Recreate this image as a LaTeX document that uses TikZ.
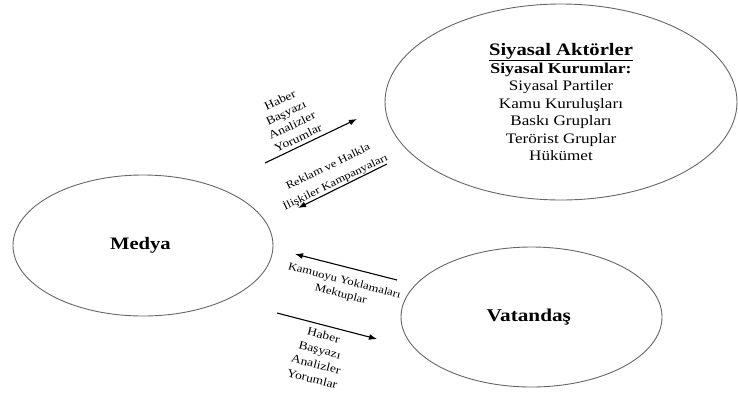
\documentclass[tikz,border=0pt]{standalone}
\usepackage{fontspec}
\setmainfont{Liberation Serif}[FakeStretch=1.18]
\usetikzlibrary{arrows.meta,shapes}

\begin{document}
\begin{tikzpicture}[x=1pt, y=-1pt,
    actor/.style={
        ellipse,
        draw=black!60,
        line width=0.9pt,
        inner sep=0pt,
        align=center
    },
    note/.style={
        inner sep=0pt,
        align=center,
        font=\fontsize{10.8}{14}\selectfont
    },
    flow/.style={-{Latex[length=8pt, width=6pt]}, line width=1.1pt, black}
]
    \useasboundingbox (0,0) rectangle (738,392);

    \node (siyasal_aktorler) [actor, minimum width=352, minimum height=196,
        font=\fontsize{14.5}{17.5}\selectfont] at (561,102)
    {
        {\fontsize{17.5}{17.5}\selectfont\bfseries \underline{Siyasal Aktörler}}\\
        {\fontsize{15}{17.5}\selectfont\bfseries Siyasal Kurumlar:}\\
        Siyasal Partiler\\
        Kamu Kuruluşları\\
        Baskı Grupları\\
        Terörist Gruplar\\
        Hükümet
    };
    \node (medya) [actor, minimum width=260, minimum height=141] at (143,245.5)
    {
        \fontsize{17.5}{20}\selectfont\bfseries Medya
    };
    \node (vatandas) [actor, minimum width=261, minimum height=140] at (531.5,317)
    {
        \fontsize{18}{20}\selectfont\bfseries Vatandaş
    };

    % arrow ends
    \coordinate (haber_top_from) at (265,163);
    \coordinate (haber_top_to) at (357,119);
    \coordinate (reklam_from) at (387,164);
    \coordinate (reklam_to) at (298,208);
    \coordinate (kamuoyu_from) at (397,280);
    \coordinate (kamuoyu_to) at (295,254);
    \coordinate (haber_bottom_from) at (277,313);
    \coordinate (haber_bottom_to) at (377,339);

    \draw[flow] (haber_top_from) to (haber_top_to);
    \draw[flow] (reklam_from) to (reklam_to);
    \draw[flow] (kamuoyu_from) to (kamuoyu_to);
    \draw[flow] (haber_bottom_from) to (haber_bottom_to);

    \node (haber_top_text) [note, rotate=25.6, font=\fontsize{11.5}{14}\selectfont] at (289,119)
    {
        Haber\\Başyazı\\Analizler\\Yorumlar
    };
    \node (reklam_text) [note, rotate=26, font=\fontsize{10.8}{17}\selectfont] at (332,175)
    {
        Reklam ve Halkla\\İlişkiler Kampanyaları
    };
    \node (kamuoyu_text) [note, rotate=-14.5] at (342.5,288)
    {
        Kamuoyu Yoklamaları\\Mektuplar
    };
    \node (haber_bottom_text) [note, rotate=-14.6, font=\fontsize{11.5}{15}\selectfont] at (318,357)
    {
        Haber\\Başyazı\\Analizler\\Yorumlar
    };
\end{tikzpicture}
\end{document}
